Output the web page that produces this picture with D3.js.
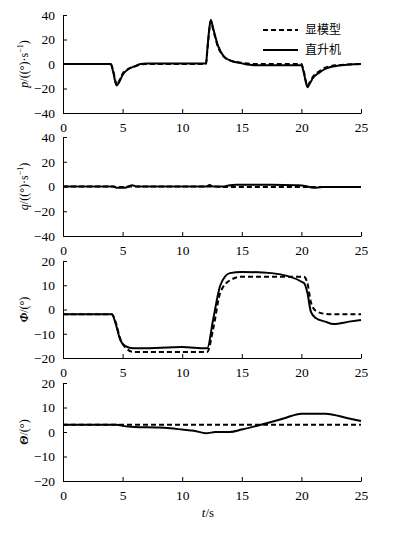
<!DOCTYPE html>
<html lang="zh">
<head>
    <meta charset="UTF-8">
    <title>显模型 / 直升机</title>
    <script src="https://cdnjs.cloudflare.com/ajax/libs/d3/7.8.5/d3.min.js"></script>
    <style>
        body { margin: 0; background: #fff; }
        svg { display: block; }
        .tick text { font-family: "Liberation Serif", serif; font-size: 13.5px; fill: #000; }
        .ylab { font-family: "Liberation Serif", serif; font-size: 12px; }
        .leg { font-family: "Noto Sans CJK SC", sans-serif; font-size: 12px; }
    </style>
</head>
<body>
<svg width="395" height="533"></svg>
<script>
    // time samples (s) and series values
    const pTime = [0, 4.0, 4.2, 4.4, 4.5, 4.7, 5.0, 5.5, 6.0, 6.5, 7, 12.0, 12.1, 12.3, 12.4, 12.6, 13.0, 13.5, 14, 15, 16, 20.0, 20.2, 20.4, 20.5, 20.7, 21, 21.5, 22, 23, 25];
    const pModel = [0, 0, -5, -14, -17, -14, -8, -4, -2, -0.5, 0, 0, 10, 30, 35, 28, 14, 6, 3, 1, 0, 0, -6, -15, -18, -15, -10, -6, -3, -1, 0];
    const pHeli  = [0, 0, -6, -15, -17.5, -15, -9, -4, -2, 0, 0.5, 0.5, 11, 31, 36, 29, 15, 6, 3, 0.5, -1, -1, -7, -16, -19, -16, -11, -7, -4, -1.5, 0];

    const qTime = [0, 4.2, 4.5, 5.2, 5.5, 5.8, 6.2, 12.0, 12.3, 12.6, 13.5, 14.0, 14.5, 17.5, 19.5, 20.3, 21.0, 21.8, 22.5, 25];
    const qModel = [0, 0, -0.5, -0.5, 0, 0, 0, 0, 0, 0, -0.5, -0.5, -0.5, -0.5, -0.5, -0.5, -0.5, -0.5, -0.5, -0.5];
    const qHeli  = [0, 0, -1, -1, 0, 1, 0, 0, 1.2, 0, 0, 1, 1.5, 1.5, 1, 0.5, -1, -0.5, -0.5, -0.5];

    const phiTime = [0, 4.1, 4.4, 4.8, 5.2, 5.9, 6.5, 10.0, 12.0, 12.1, 12.6, 13.2, 14.0, 15.0, 17.5, 20.2, 20.5, 20.8, 21.2, 22.0, 22.7, 24.0, 25];
    const phiModel = [-2, -2, -5, -12, -15.5, -17.5, -17.5, -17.5, -17.5, -17.5, -8, 7, 12, 13.5, 13.5, 13.5, 11, 3, -0.5, -1.8, -2, -2, -2];
    const phiHeli  = [-2, -2, -5.5, -12.5, -15, -16, -16, -15.5, -16, -16, -4, 10, 15, 15.5, 15, 11, 7, -1, -3.5, -5, -6, -5, -4.3];

    const thtTime = [0, 4.5, 5.0, 6.0, 8.0, 9.0, 10.0, 11.0, 12.0, 12.8, 14.0, 15.0, 17.0, 18.5, 20.0, 22.0, 24.0, 25];
    const thtModel = [3, 3, 3, 3, 3, 3, 3, 3, 3, 3, 3, 3, 3, 3, 3, 3, 3, 3];
    const thtHeli  = [3, 3, 2.5, 2, 1.8, 1.5, 1, 0.5, -0.5, 0, 0, 1, 3.5, 5.5, 7.5, 7.5, 5.5, 4.5];

    const xTicks = [0, 5, 10, 15, 20, 25];

    const panels = [
        { top: 15,  bottom: 113, dom: [-40, 40], ticks: [-40, -20, 0, 20, 40], t: pTime,   a: pModel,   b: pHeli,   sym: "p", bold: false, unit: "/((°)·s", sup: "−1", tail: ")" },
        { top: 137, bottom: 236, dom: [-40, 40], ticks: [-40, -20, 0, 20, 40], t: qTime,   a: qModel,   b: qHeli,   sym: "q", bold: false, unit: "/((°)·s", sup: "−1", tail: ")" },
        { top: 261, bottom: 358, dom: [-20, 20], ticks: [-20, -10, 0, 10, 20], t: phiTime, a: phiModel, b: phiHeli, sym: "Φ", bold: true,  unit: "/(°)" },
        { top: 383, bottom: 481, dom: [-20, 20], ticks: [-20, -10, 0, 10, 20], t: thtTime, a: thtModel, b: thtHeli, sym: "Θ", bold: true,  unit: "/(°)" }
    ];

    const svg = d3.select("svg");
    const x = d3.scaleLinear().domain([0, 25]).range([63, 361]);

    panels.forEach(pn => {
        const y = d3.scaleLinear().domain(pn.dom).range([pn.bottom, pn.top]);
        const g = svg.append("g");

        g.append("g")
            .attr("transform", `translate(0,${pn.bottom})`)
            .call(d3.axisBottom(x).tickValues(xTicks).tickSizeInner(-4).tickSizeOuter(0).tickPadding(9));
        g.append("g")
            .attr("transform", `translate(63,0)`)
            .call(d3.axisLeft(y).tickValues(pn.ticks).tickSizeInner(-4).tickSizeOuter(0).tickPadding(8)
                .tickFormat(d => d < 0 ? "\u2212" + Math.abs(d) : d));
        g.selectAll(".domain").attr("stroke", "#000").attr("stroke-width", 1);
        g.selectAll(".tick line").attr("stroke", "#000");

        const line = d3.line().curve(d3.curveMonotoneX).x((d, i) => x(pn.t[i])).y(d => y(d));
        g.append("path").datum(pn.a)
            .attr("fill", "none").attr("stroke", "#000").attr("stroke-width", 2)
            .attr("stroke-dasharray", "5,3").attr("d", line);
        g.append("path").datum(pn.b)
            .attr("fill", "none").attr("stroke", "#000").attr("stroke-width", 2)
            .attr("d", line);

        const lab = g.append("text").attr("class", "ylab")
            .attr("transform", `translate(28,${(pn.top + pn.bottom) / 2}) rotate(-90)`)
            .attr("text-anchor", "middle");
        lab.append("tspan").attr("font-style", "italic").attr("font-weight", pn.bold ? "bold" : "normal").text(pn.sym);
        lab.append("tspan").text(pn.unit);
        if (pn.sup) {
            lab.append("tspan").attr("dy", -5).attr("font-size", "8px").text(pn.sup);
            lab.append("tspan").attr("dy", 5).text(pn.tail);
        }
    });

    // legend
    const leg = svg.append("g");
    leg.append("line").attr("x1", 263).attr("x2", 298).attr("y1", 30).attr("y2", 30)
        .attr("stroke", "#000").attr("stroke-width", 2).attr("stroke-dasharray", "5,3");
    leg.append("text").attr("class", "leg").attr("x", 305).attr("y", 34).text("显模型");
    leg.append("line").attr("x1", 263).attr("x2", 298).attr("y1", 50).attr("y2", 50)
        .attr("stroke", "#000").attr("stroke-width", 2);
    leg.append("text").attr("class", "leg").attr("x", 305).attr("y", 54).text("直升机");

    // x label
    const xl = svg.append("text").attr("x", 208).attr("y", 517).attr("text-anchor", "middle")
        .attr("font-family", "Liberation Serif, serif").attr("font-size", "13px");
    xl.append("tspan").attr("font-style", "italic").text("t");
    xl.append("tspan").text("/s");
</script>
</body>
</html>
